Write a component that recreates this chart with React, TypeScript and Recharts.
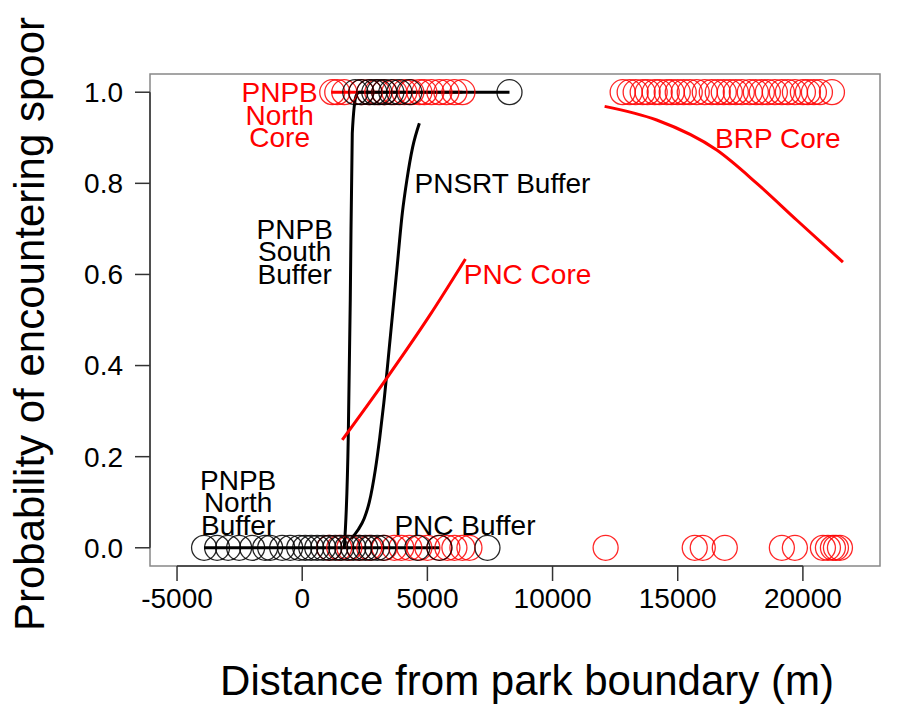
import {
  ComposedChart,
  Line,
  ReferenceArea,
  ReferenceDot,
  ReferenceLine,
  Scatter,
  XAxis,
  YAxis,
} from 'recharts';

const RED = '#ff0000';
const BLACK = '#000000';
const FONT = '"Liberation Sans", Arial, Helvetica, sans-serif';

const X_DOMAIN = [-6080, 23080];
const Y_DOMAIN = [-0.04, 1.04];
const xTicks = [-5000, 0, 5000, 10000, 15000, 20000];
const yTicks = [0, 0.2, 0.4, 0.6, 0.8, 1.0];

// survey sites with spoor found (y = 1), by colour group
const redFoundX = [
  1200, 1400, 1680, 2360, 2680, 3000, 3280, 3680, 4080, 4360, 4680, 4880,
  5160, 5480, 5760, 6080, 6400, 12800, 13080, 13320, 13600, 13800, 14080,
  14280, 14560, 14760, 15000, 15240, 15480, 15760, 16080, 16360, 16600,
  16840, 17080, 17320, 17560, 17880, 18120, 18360, 18600, 18880, 19160,
  19400, 19680, 20000, 20200, 20440, 20680, 21160,
];
const blackFoundX = [2120, 2360, 2680, 2880, 3080, 3280, 3560, 3880, 4280, 8280];

// survey sites with no spoor (y = 0)
const redAbsentX = [
  1080, 1480, 1880, 2280, 2680, 3280, 3680, 3960, 4280, 4680, 5000, 5480,
  5800, 6080, 6400, 6680, 12120, 15680, 16000, 16880, 19160, 19680, 20800,
  21000, 21200, 21320, 21480,
];
const blackAbsentX = [
  -3920, -3400, -2960, -2520, -2000, -1480, -1280, -800, -480, -120, 120,
  360, 600, 840, 1080, 1320, 1560, 1800, 2040, 2280, 2520, 2760, 3000, 3240,
  4600, 5480, 7400,
];

// fitted logistic curves per park / zone
const pnpbNorthCoreX = [1160, 6400];
const pnpbNorthCoreP = [1, 1];
const pnpbNorthBufferX = [-3920, 5480];
const pnpbNorthBufferP = [0, 0];
const pnpbSouthBufferX = [1680, 1840, 1920, 2000, 2160, 2280, 8280];
const pnpbSouthBufferP = [0, 0.243, 0.544, 0.91, 0.993, 1, 1];
const pnsrtBufferX = [1960, 2240, 2480, 2680, 2920, 3100, 3260, 3520, 3780, 4000, 4180, 4410, 4680];
const pnsrtBufferP = [0.02, 0.04, 0.065, 0.1, 0.171, 0.243, 0.318, 0.463, 0.61, 0.735, 0.807, 0.879, 0.932];
const pncCoreX = [1600, 3360, 5080, 6520];
const pncCoreP = [0.237, 0.371, 0.509, 0.634];
const brpCoreX = [12080, 14160, 16560, 18160, 19760, 21600];
const brpCoreP = [0.969, 0.939, 0.873, 0.8, 0.719, 0.627];

const toPoints = (xs: number[], ys: number[] | number) =>
  xs.map((x, i) => ({ x, y: typeof ys === 'number' ? ys : ys[i] }));

const curves = [
  { name: 'pnpbNorthCore', color: RED, data: toPoints(pnpbNorthCoreX, pnpbNorthCoreP) },
  { name: 'pnpbNorthBuffer', color: BLACK, data: toPoints(pnpbNorthBufferX, pnpbNorthBufferP) },
  { name: 'pnpbSouthBuffer', color: BLACK, data: toPoints(pnpbSouthBufferX, pnpbSouthBufferP) },
  { name: 'pnsrtBuffer', color: BLACK, data: toPoints(pnsrtBufferX, pnsrtBufferP) },
  { name: 'pncCore', color: RED, data: toPoints(pncCoreX, pncCoreP) },
  { name: 'brpCore', color: RED, data: toPoints(brpCoreX, brpCoreP) },
];

// text labels placed at block centre, in data units
const notes = [
  { lines: ['PNPB', 'North', 'Core'], x: -900, y: 0.95, color: RED },
  { lines: ['PNPB', 'South', 'Buffer'], x: -300, y: 0.65, color: BLACK },
  { lines: ['PNPB', 'North', 'Buffer'], x: -2560, y: 0.1, color: BLACK },
  { lines: ['PNSRT Buffer'], x: 8000, y: 0.8, color: BLACK },
  { lines: ['PNC Core'], x: 9000, y: 0.6, color: RED },
  { lines: ['PNC Buffer'], x: 6500, y: 0.05, color: BLACK },
  { lines: ['BRP Core'], x: 19000, y: 0.9, color: RED },
];

const NOTE_SIZE = 28;
const NOTE_LEAD = 22.5;
const TICK_SIZE = 28;

const ringShape = (color: string) => (props: any) => (
  <circle
    cx={props.cx}
    cy={props.cy}
    r={12.5}
    fill="none"
    stroke={color}
    strokeWidth={1.3}
    strokeOpacity={0.85}
  />
);

const Note = ({ viewBox, lines, color }: any) => {
  const cx = viewBox.x + viewBox.width / 2;
  const cy = viewBox.y + viewBox.height / 2;
  const first = cy - ((lines.length - 1) / 2) * NOTE_LEAD + NOTE_SIZE * 0.35;
  return (
    <text textAnchor="middle" fill={color} fontSize={NOTE_SIZE} fontFamily={FONT}>
      {lines.map((l: string, i: number) => (
        <tspan key={i} x={cx} y={first + i * NOTE_LEAD}>
          {l}
        </tspan>
      ))}
    </text>
  );
};

const XTitle = ({ viewBox }: any) => (
  <text
    x={viewBox.x + viewBox.width / 2 + 12}
    y={695}
    textAnchor="middle"
    fontSize={42}
    fontFamily={FONT}
    fill="#000"
  >
    Distance from park boundary (m)
  </text>
);

const YTitle = ({ viewBox }: any) => {
  const cy = viewBox.y + viewBox.height / 2 + 4;
  return (
    <text
      x={44}
      y={cy}
      transform={`rotate(-90, 44, ${cy})`}
      textAnchor="middle"
      fontSize={42}
      fontFamily={FONT}
      fill="#000"
    >
      Probability of encountering spoor
    </text>
  );
};

export default function App() {
  return (
    <div style={{ position: 'absolute', left: 0, top: 0, background: '#fff' }}>
      <ComposedChart
        width={899}
        height={704}
        margin={{ top: 74, right: 19, bottom: 0, left: 0 }}
      >
        <XAxis
          type="number"
          dataKey="x"
          domain={X_DOMAIN}
          ticks={xTicks}
          allowDataOverflow
          height={138}
          axisLine={false}
          tickSize={15}
          tickMargin={7}
          tickLine={{ stroke: '#333', strokeWidth: 1.5 }}
          tick={{ fill: '#000', fontSize: TICK_SIZE, fontFamily: FONT }}
          label={{ content: (p: any) => <XTitle viewBox={p.viewBox} /> }}
        />
        <YAxis
          type="number"
          dataKey="y"
          domain={Y_DOMAIN}
          ticks={yTicks}
          allowDataOverflow
          width={150}
          axisLine={false}
          tickSize={15}
          tickMargin={12}
          tickLine={{ stroke: '#333', strokeWidth: 1.5 }}
          tick={{ fill: '#000', fontSize: TICK_SIZE, fontFamily: FONT }}
          tickFormatter={(v: number) => v.toFixed(1)}
          label={{ content: (p: any) => <YTitle viewBox={p.viewBox} /> }}
        />
        <ReferenceArea
          x1={X_DOMAIN[0]}
          x2={X_DOMAIN[1]}
          y1={Y_DOMAIN[0]}
          y2={Y_DOMAIN[1]}
          fill="none"
          stroke="#888"
          strokeWidth={1.5}
          fillOpacity={0}
        />
        <ReferenceLine
          segment={[
            { x: xTicks[0], y: Y_DOMAIN[0] },
            { x: xTicks[xTicks.length - 1], y: Y_DOMAIN[0] },
          ]}
          stroke="#333"
          strokeWidth={1.5}
        />
        <ReferenceLine
          segment={[
            { x: X_DOMAIN[0], y: yTicks[0] },
            { x: X_DOMAIN[0], y: yTicks[yTicks.length - 1] },
          ]}
          stroke="#333"
          strokeWidth={1.5}
        />

        <Scatter data={toPoints(redFoundX, 1)} shape={ringShape(RED)} isAnimationActive={false} />
        <Scatter data={toPoints(redAbsentX, 0)} shape={ringShape(RED)} isAnimationActive={false} />
        <Scatter data={toPoints(blackFoundX, 1)} shape={ringShape(BLACK)} isAnimationActive={false} />
        <Scatter data={toPoints(blackAbsentX, 0)} shape={ringShape(BLACK)} isAnimationActive={false} />

        {curves.map((c) => (
          <Line
            key={c.name}
            data={c.data}
            dataKey="y"
            type="monotone"
            stroke={c.color}
            strokeWidth={3}
            dot={false}
            activeDot={false}
            isAnimationActive={false}
          />
        ))}

        {notes.map((n) => (
          <ReferenceDot
            key={n.lines.join(' ')}
            x={n.x}
            y={n.y}
            r={0}
            fill="none"
            stroke="none"
            label={{
              content: (p: any) => <Note viewBox={p.viewBox} lines={n.lines} color={n.color} />,
            }}
          />
        ))}
      </ComposedChart>
    </div>
  );
}
